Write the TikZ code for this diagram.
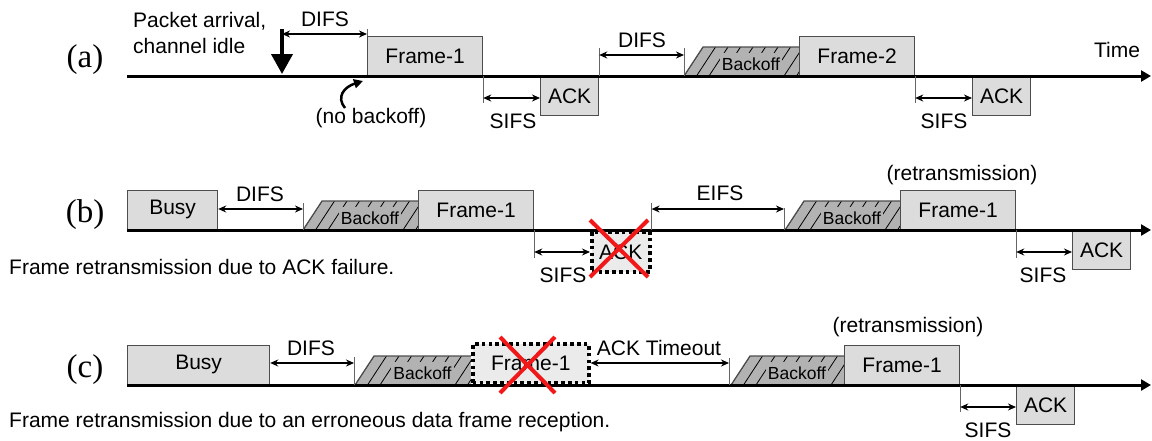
\documentclass[tikz,border=0pt]{standalone}
\usepackage{fontspec}
\setmainfont{Liberation Sans}
\newfontfamily\serifl{Liberation Serif}
\usepackage{xcolor}
\usetikzlibrary{arrows.meta,positioning,calc}
\definecolor{boxg}{HTML}{DCDCDC}
\definecolor{lostg}{HTML}{EBEBEB}
\definecolor{bkg}{HTML}{B2B2B2}
\definecolor{edgeg}{HTML}{4D4D4D}
\definecolor{tickg}{HTML}{666666}
\definecolor{xred}{HTML}{F01818}
\newcommand{\mainsz}{\fontsize{21}{26}\selectfont}
\newcommand{\bksz}{\fontsize{17.5}{20}\selectfont}
\tikzset{
  frm/.style={draw=edgeg,line width=1.2pt,fill=boxg,inner sep=0pt,minimum height=39pt,font=\mainsz},
  ack/.style={frm,minimum width=58pt,anchor=north west},
  lost/.style={draw=black,line width=3.6pt,dash pattern=on 3.6pt off 3.2pt,fill=lostg,inner sep=0pt,font=\mainsz},
  dur/.style={{Stealth[length=8pt,width=7pt]}-{Stealth[length=8pt,width=7pt]},line width=1.8pt},
  tick/.style={draw=tickg,line width=1pt},
  axis/.style={-{Triangle[length=10pt,width=11pt]},line width=3pt},
  lbl/.style={font=\mainsz,inner sep=0pt},
  tag/.style={font={\serifl\fontsize{33}{36}\selectfont},inner sep=0pt},
  cross/.style={draw=xred,line width=4pt},
  hatch/.style={line width=0.8pt,black},
  bkedge/.style={draw=edgeg,line width=1.2pt},
  bktxt/.style={fill=bkg,font=\bksz,inner xsep=2pt,inner ysep=0pt,minimum height=23pt},
  pktar/.style={-{Triangle[length=20pt,width=21pt]},line width=4pt},
  curv/.style={-{Triangle[length=9pt,width=9pt]},line width=2.5pt}
}
% backoff slot: left x at base, right x, base y
\newcommand{\bkoff}[3]{%
  \begin{scope}
    \clip (#1,#3) -- (#1+19,#3-29) -- (#2,#3-29) -- (#2,#3) -- cycle;
    \fill[bkg] (#1,#3) rectangle (#2,#3-29);
    \foreach \hx in {0,12.5,...,137} \draw[hatch] (#1+\hx,#3) -- ++(19,-29);
  \end{scope}
  \draw[bkedge] (#1,#3) -- (#1+19,#3-29) -- (#2,#3-29);
  \node[bktxt,anchor=south] at ({(#1+19+#2)/2},#3) {Backoff};
}

\begin{document}
\begin{tikzpicture}[x=1pt,y=-1pt]
\useasboundingbox (0,0) rectangle (1152,440);

% (a) channel idle
\node[tag] (la) at (85,60) {(a)};
\bkoff{684}{799}{76}
\node[frm,minimum width=115pt,anchor=south west] (f1a) at (367,76) {Frame-1};
\node[frm,minimum width=115pt,anchor=south west] (f2a) at (799,76) {Frame-2};
\node[ack] (k1a) at (540,76) {ACK};
\node[ack] (k2a) at (972,76) {ACK};
\coordinate (a0) at (127,76);
\coordinate (a1) at (1151,76);
\draw[axis] (a0) -- (a1);
\coordinate (pkt) at (282,29);
\coordinate (pktend) at (282,74);
\draw[pktar] (pkt) -- (pktend);
\coordinate (d2a) at (684,48);
\draw[tick] (f1a.north west) -- ++(0,-7);
\draw[tick] (f1a.south east) -- ++(0,27);
\draw[tick] (k1a.north east) -- ++(0,-28);
\draw[tick] (d2a) -- (d2a |- a0);
\draw[tick] (f2a.south east) -- ++(0,27);
\draw[dur] (pkt |- 0,34) -- (f1a.west |- 0,34);
\draw[dur] (f1a.south east |- 0,98) -- (k1a.west |- 0,98);
\draw[dur] (k1a.east |- 0,55) -- (d2a |- 0,55);
\draw[dur] (f2a.south east |- 0,98) -- (k2a.west |- 0,98);
\node[lbl,align=left,anchor=north west] (pkn) at (133,12) {Packet arrival,\\channel idle};
\node[lbl] (df1a) at (325,19) {DIFS};
\node[lbl] (df2a) at (642,40) {DIFS};
\node[lbl] (sf1a) at (513,121) {SIFS};
\node[lbl] (sf2a) at (944,121) {SIFS};
\node[lbl] (tm) at (1117,50) {Time};
\node[lbl] (nb) at (371,118) {(no backoff)};
\draw[curv] (nb.north -| 345,0) .. controls (336,97) and (344,87) .. (363,81);

% (b) ACK lost
\node[tag] (lb) at (85,215) {(b)};
\bkoff{303}{418}{230}
\bkoff{785}{900}{230}
\node[frm,minimum width=90pt,anchor=south west] (bzb) at (127,230) {Busy};
\node[frm,minimum width=115pt,anchor=south west] (f1b) at (418,230) {Frame-1};
\node[frm,minimum width=115pt,anchor=south west] (r1b) at (900,230) {Frame-1};
\node[ack] (k2b) at (1072,230) {ACK};
\coordinate (b0) at (127,230);
\coordinate (b1) at (1151,230);
\draw[axis] (b0) -- (b1);
\node[lost,minimum width=58pt,minimum height=40pt,anchor=north west] (k1b) at (590,230) {ACK};
\coordinate (d1b) at (303,203);
\coordinate (e1b) at (784,208);
\draw[tick] (d1b) -- (d1b |- b0);
\draw[tick] (f1b.south east) -- ++(0,28);
\draw[tick] (k1b.north east) -- ++(0,-27);
\draw[tick] (e1b) -- (e1b |- b0);
\draw[tick] (r1b.south east) -- ++(0,28);
\draw[dur] (bzb.east |- 0,209) -- (d1b |- 0,209);
\draw[dur] (f1b.south east |- 0,252) -- (k1b.west |- 0,252);
\draw[dur] (k1b.east |- 0,209) -- (e1b |- 0,209);
\draw[dur] (r1b.south east |- 0,252) -- (k2b.west |- 0,252);
\draw[cross] (590,220) -- (648,277);
\draw[cross] (648,220) -- (590,277);
\node[lbl] (dfb) at (260,194) {DIFS};
\node[lbl] (sf1b) at (563,275) {SIFS};
\node[lbl] (eib) at (720,193) {EIFS};
\node[lbl] (rtb) at (962,175) {(retransmission)};
\node[lbl] (sf2b) at (1043,275) {SIFS};
\node[lbl,anchor=west] (capb) at (9,267) {Frame retransmission due to ACK failure.};

% (c) frame lost
\node[tag] (lc) at (85,370) {(c)};
\bkoff{355}{471}{385}
\bkoff{731}{844}{385}
\node[frm,minimum width=142pt,anchor=south west] (bzc) at (127,385) {Busy};
\node[frm,minimum width=115pt,anchor=south west] (r1c) at (844,385) {Frame-1};
\node[ack] (kc) at (1016,385) {ACK};
\coordinate (c0) at (127,385);
\coordinate (c1) at (1151,385);
\draw[axis] (c0) -- (c1);
\node[lost,minimum width=116pt,minimum height=39pt,anchor=south west] (f1c) at (471,385) {Frame-1};
\coordinate (d1c) at (354,357);
\coordinate (t1c) at (729,358);
\draw[tick] (d1c) -- (d1c |- c0);
\draw[tick] (t1c) -- (t1c |- c0);
\draw[tick] (r1c.south east) -- ++(0,27);
\draw[dur] (bzc.east |- 0,363) -- (d1c |- 0,363);
\draw[dur] (f1c.east |- 0,363) -- (t1c |- 0,363);
\draw[dur] (r1c.south east |- 0,407) -- (kc.west |- 0,407);
\draw[cross] (500,337) -- (555,393);
\draw[cross] (555,337) -- (500,393);
\node[lbl] (dfc) at (311,348) {DIFS};
\node[lbl] (toc) at (659,348) {ACK Timeout};
\node[lbl] (rtc) at (908,327) {(retransmission)};
\node[lbl] (sfc) at (988,430) {SIFS};
\node[lbl,anchor=west] (capc) at (9,422) {Frame retransmission due to an erroneous data frame reception.};
\end{tikzpicture}
\end{document}
